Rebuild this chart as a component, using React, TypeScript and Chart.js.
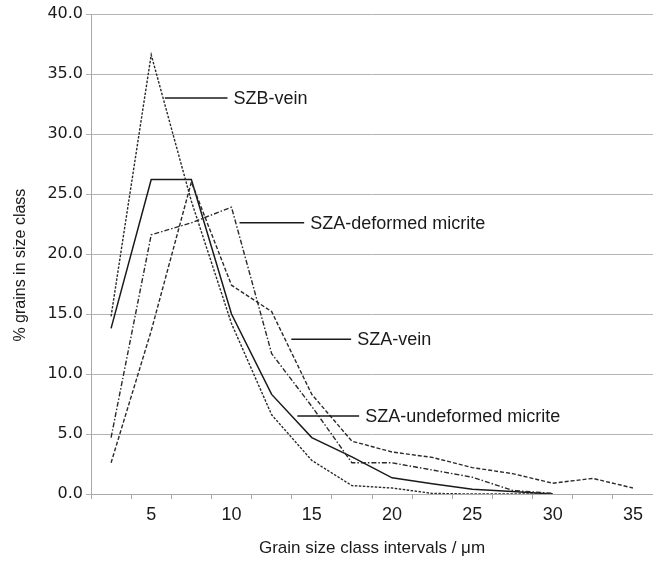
import React, { useEffect, useRef } from "react";
import { Chart, registerables } from "chart.js";

Chart.register(...registerables);

// Grain size class intervals (µm)
const categories = ["2.5", "5", "7.5", "10", "12.5", "15", "17.5", "20", "22.5", "25", "27.5", "30", "32.5", "35"];

// % grains in size class
const szbVein = [14.8, 36.6, 24.4, 14.2, 6.6, 2.8, 0.7, 0.5, 0.05, 0.0, 0.0, 0.0, null, null];
const szaDeformed = [4.7, 21.6, 22.6, 23.9, 11.7, 7.3, 2.6, 2.6, 2.0, 1.4, 0.3, 0.05, null, null];
const szaVein = [2.6, 13.6, 26.0, 17.4, 15.2, 8.3, 4.4, 3.5, 3.05, 2.2, 1.7, 0.9, 1.3, 0.5];
const szaUndeformed = [13.8, 26.2, 26.2, 15.0, 8.3, 4.7, 3.1, 1.35, 0.85, 0.4, 0.2, 0.0, null, null];

const seriesNames = ["SZB-vein", "SZA-deformed micrite", "SZA-vein", "SZA-undeformed micrite"];

// Leader-line annotations, in data units (category index, % value)
const labelFrom = [1.34, 3.2, 4.49, 4.64];
const labelTo = [2.9, 4.81, 5.98, 6.18];
const labelAt = [33.0, 22.6, 12.9, 6.5];

const yTicks = { min: 0, max: 40, step: 5 };

const annotationPlugin = {
  id: "leaderLabels",
  afterDatasetsDraw(chart: any) {
    const { ctx } = chart;
    const xs = chart.scales.x;
    const ys = chart.scales.y;
    ctx.save();
    ctx.strokeStyle = "#1a1a1a";
    ctx.lineWidth = 1.6;
    ctx.fillStyle = "#1a1a1a";
    ctx.font = "18px 'Liberation Sans', Arial, sans-serif";
    ctx.textAlign = "left";
    ctx.textBaseline = "middle";
    seriesNames.forEach((name, i) => {
      const x1 = xs.getPixelForValue(labelFrom[i]);
      const x2 = xs.getPixelForValue(labelTo[i]);
      const py = ys.getPixelForValue(labelAt[i]);
      ctx.beginPath();
      ctx.moveTo(x1, py);
      ctx.lineTo(x2, py);
      ctx.stroke();
      ctx.fillText(name, x2 + 6, py + 1);
    });
    ctx.restore();
  },
};

export default function App() {
  const ref = useRef<HTMLCanvasElement | null>(null);

  useEffect(() => {
    if (!ref.current) return;
    const lineColor = "#2a2a2a";
    const chart = new Chart(ref.current, {
      type: "line",
      data: {
        labels: categories,
        datasets: [
          { label: seriesNames[0], data: szbVein, borderColor: lineColor, borderWidth: 1.4, borderDash: [2.5, 1.5] },
          { label: seriesNames[1], data: szaDeformed, borderColor: lineColor, borderWidth: 1.4, borderDash: [5, 2, 1.5, 2] },
          { label: seriesNames[2], data: szaVein, borderColor: lineColor, borderWidth: 1.4, borderDash: [4, 2] },
          { label: seriesNames[3], data: szaUndeformed, borderColor: "#1a1a1a", borderWidth: 1.5 },
        ],
      },
      options: {
        responsive: false,
        animation: false,
        layout: { padding: { top: 14, right: 0, left: 0, bottom: 0 } },
        elements: { point: { radius: 0 }, line: { tension: 0, fill: false } },
        plugins: { legend: { display: false }, tooltip: { enabled: false } },
        scales: {
          x: {
            type: "category",
            offset: true,
            grid: { offset: true, drawOnChartArea: false, drawTicks: true, tickLength: 5, color: "#a8a8a8" },
            border: { display: true, color: "#a8a8a8", width: 1 },
            ticks: {
              autoSkip: false,
              maxRotation: 0,
              padding: 5,
              color: "#1a1a1a",
              font: { family: "'Liberation Sans', Arial, sans-serif", size: 18 },
              callback: (_v: any, i: number) => (Number(categories[i]) % 5 === 0 ? categories[i] : ""),
            },
            title: {
              display: true,
              text: "Grain size class intervals / μm",
              color: "#1a1a1a",
              font: { family: "'Liberation Sans', Arial, sans-serif", size: 17 },
              padding: { top: 0, bottom: 3 },
            },
            afterFit: (s: any) => {
              s.height = 68;
            },
          },
          y: {
            min: yTicks.min,
            max: yTicks.max,
            grid: { color: "#b4b4b4", lineWidth: 1, tickLength: 5 },
            border: { display: true, color: "#a8a8a8", width: 1 },
            ticks: {
              stepSize: yTicks.step,
              padding: 3,
              color: "#1a1a1a",
              font: { family: "'DejaVu Sans', sans-serif", size: 16 },
              callback: (v: any) => Number(v).toFixed(1),
            },
            title: {
              display: true,
              text: "% grains in size class\u00A0\u00A0\u00A0\u00A0\u00A0",
              color: "#1a1a1a",
              font: { family: "'Liberation Sans', Arial, sans-serif", size: 16 },
              padding: { top: 11, bottom: 0 },
            },
            afterFit: (s: any) => {
              s.width = 91;
            },
          },
        },
      },
      plugins: [annotationPlugin],
    });
    return () => chart.destroy();
  }, []);

  return (
    <div style={{ position: "fixed", left: 0, top: 0, width: 653, height: 562, background: "#fff" }}>
      <canvas ref={ref} width={653} height={562} style={{ display: "block", width: 653, height: 562 }} />
    </div>
  );
}
